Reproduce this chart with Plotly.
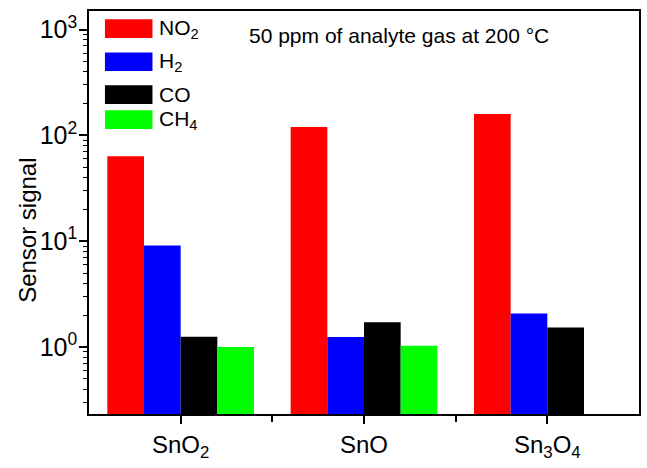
import plotly.graph_objects as go

# ---- data ----
materials = ["SnO<sub>2</sub>", "SnO", "Sn<sub>3</sub>O<sub>4</sub>"]
gases = ["NO<sub>2</sub>", "H<sub>2</sub>", "CO", "CH<sub>4</sub>"]
colors = ["#FF0000", "#0000FF", "#000000", "#00FF00"]
no2 = [63.4, 119.7, 159.0]
h2 = [9.1, 1.24, 2.07]
co = [1.25, 1.71, 1.53]
ch4 = [1.0, 1.03, None]
series = [no2, h2, co, ch4]
ytick_vals = [1, 10, 100, 1000]
ytick_text = ["10<sup>0</sup>", "10<sup>1</sup>", "10<sup>2</sup>", "10<sup>3</sup>"]
note = "50 ppm of analyte gas at 200 °C"
ytitle = "Sensor signal"

W, H = 647, 468
L, R, T, B = 89, 6, 11, 46
FONT = "Arial, Liberation Sans, sans-serif"

fig = go.Figure()
xs = list(range(len(materials)))
for name, vals, col in zip(gases, series, colors):
    fig.add_trace(go.Bar(x=xs, y=vals, name=name, marker=dict(color=col, line=dict(width=0)),
                         showlegend=False))

# custom legend (large patches like the original)
pw, ph = W - L - R, H - T - B
def px_x(p):
    return (p - L) / pw
def px_y(p):
    return 1 - (p - T) / ph
leg_centers = [29, 62.7, 96.3, 121.8]
for name, col, cy in zip(gases, colors, leg_centers):
    fig.add_shape(type="rect", xref="paper", yref="paper",
                  x0=px_x(105), x1=px_x(152.7), y0=px_y(cy - 9.5), y1=px_y(cy + 9.5),
                  fillcolor=col, line=dict(width=0))
    fig.add_annotation(xref="paper", yref="paper", x=px_x(157), y=px_y(cy),
                       xanchor="left", yanchor="middle", text=name, showarrow=False,
                       font=dict(size=21, color="black", family=FONT))

fig.add_annotation(xref="paper", yref="paper", x=px_x(400), y=px_y(36),
                   xanchor="center", yanchor="middle", text=note, showarrow=False,
                   font=dict(size=21, color="black", family=FONT))

fig.add_annotation(xref="paper", yref="paper", x=px_x(27), y=px_y(235),
                   xanchor="center", yanchor="middle", text=ytitle, showarrow=False,
                   textangle=-90, font=dict(size=24, color="black", family=FONT))

minor_vals = [k * 10 ** e for e in range(-1, 4) for k in range(2, 10)]

fig.update_layout(
    width=W, height=H,
    margin=dict(l=L, r=R, t=T, b=B),
    paper_bgcolor="white", plot_bgcolor="white",
    barmode="group", bargap=0.2, bargroupgap=0,
    font=dict(family=FONT, size=24, color="black"),
    xaxis=dict(range=[-0.5, 2.5], tickmode="array", tickvals=xs, ticktext=materials,
               ticks="outside", ticklen=8, tickwidth=1.5, tickcolor="black",
               showline=True, linewidth=1.5, linecolor="black", mirror=True,
               showgrid=False, zeroline=False,
               minor=dict(tickmode="array", tickvals=[0.5, 1.5], ticks="outside",
                          ticklen=6, tickwidth=1.5, tickcolor="black", showgrid=False),
               tickfont=dict(size=24)),
    yaxis=dict(type="log", range=[-0.633, 3.175], tickmode="array",
               tickvals=ytick_vals, ticktext=ytick_text,
               ticks="outside", ticklen=8, tickwidth=1.5, tickcolor="black",
               showline=True, linewidth=1.5, linecolor="black", mirror=True,
               showgrid=False, zeroline=False, ticklabelstandoff=-3,
               minor=dict(tickmode="array", tickvals=minor_vals, ticks="outside",
                          ticklen=4, tickwidth=1.2, tickcolor="black", showgrid=False),
               tickfont=dict(size=25)),
)

fig.write_html("out.html")
